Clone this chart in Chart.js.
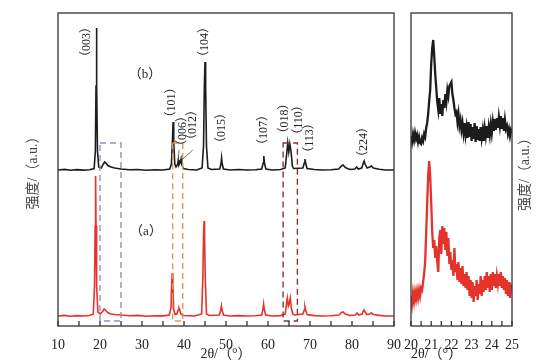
<!DOCTYPE html>
<html>
<head>
<meta charset="utf-8">
<script src="https://cdn.jsdelivr.net/npm/chart.js@4.4.1/dist/chart.umd.min.js"></script>
<style>
  body { margin: 0; background: #fff; }
  #main { position: absolute; left: 0; top: 0; }
  #zoom { position: absolute; left: 400px; top: 0; }
</style>
</head>
<body>
<canvas id="main" width="410" height="364"></canvas>
<canvas id="zoom" width="154" height="364"></canvas>
<script>
// sample (b), full scan
const bAngle = [10,11.5,13,14.5,16,17.5,18.6,18.9,19.05,19.15,19.25,19.4,19.7,20.3,20.8,21.1,21.4,21.9,22.6,23.5,25,27,29,31,33,35,
  36.6,37.0,37.25,37.4,37.55,37.8,38.1,38.5,38.65,38.8,39.15,39.3,39.45,39.8,41,43,44.3,44.65,44.85,45.0,45.15,45.35,45.7,46.5,
  48.5,48.8,48.95,49.1,49.4,51,53,55,57,58.5,58.85,59.0,59.15,59.5,61,63,64.1,64.45,64.7,64.95,65.2,65.5,65.8,66.1,
  68.3,68.65,68.8,68.95,69.3,71,73,75,76.8,77.5,77.9,78.4,79.5,80.7,81.1,81.5,82.3,82.7,82.9,83.1,83.6,84.2,84.6,85.1,86.5,88,90];
const bCount = [156,156.6,155.8,156.4,155.9,156.3,157.5,175,240,298,240,175,159,158,162,164,163,160.5,159,158,157,156.2,156.5,155.8,156.3,156,
  157,162,185,204,185,162,159,162,166,161,164,167,162,157.5,156.5,156,158,180,240,264,240,180,158,156.5,
  157,162,168,162,157,156,156.5,156,156.3,157,163,170,163,157,156,156.5,158,172,183,174,182,174,160,157.5,
  158,163,167,163,157.5,156.5,156,156.3,157,160,161,158.5,156.5,157,159,157,158,163,165,162,158,159,160,158,156.8,156,156];

// sample (a), full scan
const aAngle = [10,11.5,13,14.5,16,17.5,18.4,18.7,18.85,18.95,19.05,19.2,19.5,20.1,20.7,21.0,21.3,21.8,22.6,23.5,25,27,29,31,33,35,
  36.5,36.9,37.05,37.2,37.35,37.55,37.9,38.3,38.6,38.8,39.0,39.3,40,42.5,44.2,44.5,44.65,44.78,44.9,45.05,45.35,46,
  48.4,48.75,48.9,49.05,49.4,51,53,55,57,58.5,58.8,58.95,59.1,59.45,61,63,64.1,64.4,64.6,64.85,65.05,65.3,65.55,65.9,66.3,
  68.3,68.65,68.8,68.95,69.3,71,73,75,76.9,77.5,77.9,78.4,79.5,80.8,81.2,81.6,82.4,82.7,82.9,83.1,83.6,84.2,84.6,85.1,86.5,88,90];
const aCount = [10,10.6,9.8,10.4,10,10.5,12,40,100,150,100,40,14,12,15,17,16,13.5,12,11.5,11,10.2,10.6,9.8,10.3,10.1,
  11,18,40,53,40,16,11.5,12,16,18,16,11.5,10.5,10,12,50,90,105,90,50,12,10.5,
  11,16,20,16,11,10,10.4,10,10.3,11,17,22,17,11,10,10.4,12,22,28,20,22,28,18,12,11,
  12,16,19,16,11.5,10.4,10,10.3,11,13.5,14,12,10.5,11,13,11,12,15,16,14,11.5,12,13,11.5,10.6,10,10];

// 20-25 degree detail scans, one value every 0.05 degree
const zoomStart = 20;
const zoomStep = 0.05;
const zoomB = [190,184,192,186,193,187,191,184,189,183,182,188,185,192,189,198,203,212,225,236,
  262,278,286,270,252,238,224,216,228,212,222,210,226,218,232,224,236,230,240,242,
  244,232,226,218,212,214,204,212,200,206,196,203,193,203,191,199,188,204,189,202,
  185,199,187,203,184,200,186,197,185,199,188,196,185,198,190,200,188,199,191,202,
  193,204,195,207,196,208,198,209,200,210,197,208,195,206,197,200,192,197,190,196,193];
const zoomA = [30,22,33,25,34,27,35,28,36,30,38,36,44,52,64,92,122,150,165,150,
  124,94,78,86,68,80,64,54,88,96,72,100,82,98,76,94,70,88,62,74,
  56,66,50,78,54,62,46,64,44,58,42,60,40,52,38,54,36,50,30,46,
  28,44,24,40,30,46,26,42,32,50,30,46,34,50,36,54,38,50,34,52,
  36,54,40,52,38,50,42,52,40,54,38,50,36,48,32,46,30,44,28,40,38];

const peakLabels = ['（003）','（101）','（006）','（012）','（104）','（015）','（107）','（018）','（110）','（113）','（224）'];
const labelAngles = [16.8, 37.2, 39.7, 42.0, 45.0, 49.1, 58.9, 64.05, 67.25, 70.0, 82.86];
const labelHeights = [284, 223.5, 195, 201, 284, 198, 196, 207.5, 206, 188, 184];

const boxStart = [20, 37.3, 63.6];
const boxEnd = [25, 39.7, 67];
const boxColors = ['#a488c0', '#e8954e', '#8e2f2f'];

const serif = "'Liberation Serif', 'Noto Sans CJK SC', serif";
Chart.defaults.color = '#222';
Chart.defaults.font.family = serif;

function pairs(xs, ys) {
  return xs.map((x, i) => ({x: x, y: ys[i]}));
}

const frame = {
  id: 'frame',
  afterDraw(chart) {
    const {ctx, chartArea: a} = chart;
    const x = chart.scales.x;
    ctx.save();
    ctx.strokeStyle = '#333';
    ctx.lineWidth = 1.3;
    ctx.strokeRect(a.left, a.top, a.right - a.left, a.bottom - a.top);
    ctx.beginPath();
    x.ticks.forEach(t => {
      const px = x.getPixelForValue(t.value);
      ctx.moveTo(px, a.bottom);
      ctx.lineTo(px, a.bottom - 5);
    });
    ctx.stroke();
    ctx.restore();
  }
};

const marks = {
  id: 'marks',
  afterDatasetsDraw(chart) {
    const {ctx} = chart;
    const x = chart.scales.x, y = chart.scales.y;
    ctx.save();
    // dashed boxes
    ctx.lineWidth = 1.4;
    ctx.setLineDash([6, 4]);
    boxStart.forEach((s, i) => {
      const x0 = x.getPixelForValue(s), x1 = x.getPixelForValue(boxEnd[i]);
      const y0 = y.getPixelForValue(183), y1 = y.getPixelForValue(5);
      ctx.strokeStyle = boxColors[i];
      ctx.strokeRect(x0, y0, x1 - x0, y1 - y0);
    });
    ctx.setLineDash([]);
    // leader lines
    ctx.strokeStyle = '#555';
    ctx.lineWidth = 0.8;
    ctx.beginPath();
    ctx.moveTo(x.getPixelForValue(38.85), y.getPixelForValue(176));
    ctx.lineTo(x.getPixelForValue(38.55), y.getPixelForValue(165));
    ctx.moveTo(x.getPixelForValue(42.1), y.getPixelForValue(176));
    ctx.lineTo(x.getPixelForValue(39.45), y.getPixelForValue(166));
    ctx.stroke();
    // peak labels
    ctx.fillStyle = '#222';
    ctx.font = '12px ' + serif;
    ctx.textAlign = 'center';
    ctx.textBaseline = 'middle';
    peakLabels.forEach((t, i) => {
      ctx.save();
      ctx.translate(x.getPixelForValue(labelAngles[i]), y.getPixelForValue(labelHeights[i]));
      ctx.rotate(-Math.PI / 2);
      ctx.fillText(t, 0, 0);
      ctx.restore();
    });
    ctx.font = '13px ' + serif;
    ctx.fillText('（b）', x.getPixelForValue(30.7), y.getPixelForValue(251));
    ctx.fillText('（a）', x.getPixelForValue(30.95), y.getPixelForValue(94));
    ctx.restore();
  }
};

new Chart(document.getElementById('main'), {
  type: 'line',
  data: {
    datasets: [
      {label: '(b)', data: pairs(bAngle, bCount), borderColor: '#1c1c1c', borderWidth: 1.6, pointRadius: 0, tension: 0},
      {label: '(a)', data: pairs(aAngle, aCount), borderColor: '#e5322b', borderWidth: 1.6, pointRadius: 0, tension: 0}
    ]
  },
  options: {
    responsive: false,
    animation: false,
    layout: {padding: {left: 0, top: 13, right: 16, bottom: 0}},
    plugins: {legend: {display: false}, tooltip: {enabled: false}},
    scales: {
      x: {
        type: 'linear', min: 10, max: 90,
        ticks: {stepSize: 5, autoSkip: false, maxRotation: 0, padding: 3, font: {size: 14},
          callback: v => (v % 10 === 0 ? String(v) : '')},
        grid: {display: false},
        border: {display: false},
        title: {display: true, text: '2θ/（°）', font: {size: 14}, padding: {top: 0, bottom: 1}},
        afterFit: s => { s.height = 38; }
      },
      y: {
        min: 0, max: 313,
        ticks: {display: false},
        grid: {display: false},
        border: {display: false},
        title: {display: true, text: '强度/（a.u.）', font: {size: 14}, color: '#444', padding: {top: 25, bottom: 0}},
        afterFit: s => { s.width = 58; }
      }
    }
  },
  plugins: [frame, marks]
});

const sideTitle = {
  id: 'sideTitle',
  afterDraw(chart) {
    const {ctx} = chart;
    ctx.save();
    ctx.fillStyle = '#444';
    ctx.font = '14px ' + serif;
    ctx.textAlign = 'center';
    ctx.textBaseline = 'middle';
    ctx.translate(125, chart.scales.y.getPixelForValue(155));
    ctx.rotate(-Math.PI / 2);
    ctx.fillText('强度/（a.u.）', 0, 0);
    ctx.restore();
  }
};

const zoomAngles = zoomB.map((v, i) => zoomStart + i * zoomStep);

new Chart(document.getElementById('zoom'), {
  type: 'line',
  data: {
    datasets: [
      {label: '(b)', data: pairs(zoomAngles, zoomB), borderColor: '#1c1c1c', borderWidth: 2.3, pointRadius: 0, tension: 0},
      {label: '(a)', data: pairs(zoomAngles, zoomA), borderColor: '#e5322b', borderWidth: 2.3, pointRadius: 0, tension: 0}
    ]
  },
  options: {
    responsive: false,
    animation: false,
    layout: {padding: {left: 0, top: 13, right: 42, bottom: 0}},
    plugins: {legend: {display: false}, tooltip: {enabled: false}},
    scales: {
      x: {
        type: 'linear', min: 20, max: 25,
        ticks: {stepSize: 0.5, autoSkip: false, maxRotation: 0, padding: 3, font: {size: 14},
          callback: v => (Number.isInteger(v) ? String(v) : '')},
        grid: {display: false},
        border: {display: false},
        title: {display: true, text: '2θ/（°）', align: 'start', font: {size: 14}, padding: {top: 0, bottom: 1}},
        afterFit: s => { s.height = 38; }
      },
      y: {
        min: 0, max: 313,
        ticks: {display: false},
        grid: {display: false},
        border: {display: false},
        afterFit: s => { s.width = 11; }
      }
    }
  },
  plugins: [frame, sideTitle]
});
</script>
</body>
</html>
